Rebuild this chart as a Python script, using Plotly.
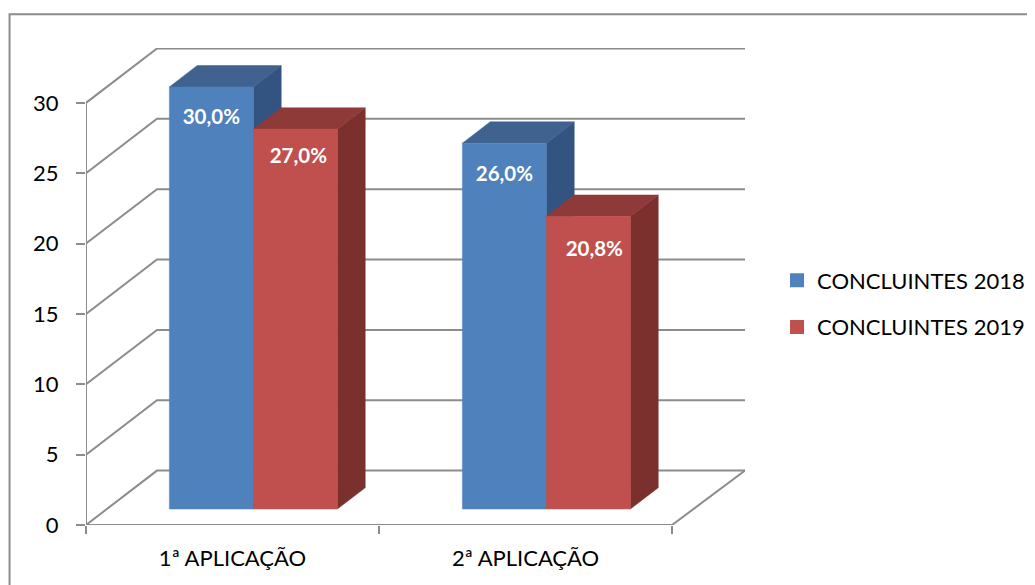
import plotly.graph_objects as go

categories = ["1ª APLICAÇÃO", "2ª APLICAÇÃO"]
series_names = ["CONCLUINTES 2018", "CONCLUINTES 2019"]
concluintes_2018 = [30, 26]
concluintes_2019 = [27, 20.8]
y_ticks = [0, 5, 10, 15, 20, 25, 30]

# oblique projection of the excel 3d column chart, in axis units
WALL_DX = 0.2423
WALL_DY = 3.866
BAR_NEAR = 0.294   # fraction of the floor depth where the bars start
BAR_FAR = 0.686    # and where they end
BAR_W = 0.2867
X_MAX = 2.249
Y_MAX = 33.9

GREY = "#8c8c8c"
FONT = "Lato"
COLORS = [
    {"front": "#4F81BD", "top": "#3F628E", "side": "#335480"},
    {"front": "#C0504D", "top": "#8E3A38", "side": "#7B302E"},
]
# excel nudged the labels a little differently on each bar
label_drop = [[2.27, 2.07], [2.3, 2.42]]
label_nudge = [[0, 0.01], [0, 0.02]]

fig = go.Figure()


def depth(frac):
    return frac * WALL_DX, frac * WALL_DY


def add_lines(xs, ys):
    fig.add_trace(go.Scatter(x=xs, y=ys, mode="lines", showlegend=False, hoverinfo="skip",
                             line=dict(color=GREY, width=2)))


def add_face(points, color):
    fig.add_trace(go.Scatter(x=[p[0] for p in points], y=[p[1] for p in points], mode="lines",
                             fill="toself", fillcolor=color, line=dict(color=color, width=0.5),
                             showlegend=False, hoverinfo="skip"))


# walls: back gridlines + diagonals on the left wall
wall_x, wall_y = [], []
for t in y_ticks:
    wall_x += [0, WALL_DX, X_MAX, None]
    wall_y += [t, t + WALL_DY, t + WALL_DY, None]
add_lines(wall_x, wall_y)
# y axis, floor front edge and floor right edge
add_lines([0, 0, None, 0, len(categories), X_MAX],
          [y_ticks[-1], 0, None, 0, 0, WALL_DY])

# bars
near_x, near_y = depth(BAR_NEAR)
far_x, far_y = depth(BAR_FAR)
label_x, label_y, label_text = [], [], []
for c in range(len(categories)):
    left = c + 0.5 + near_x - BAR_W
    for s, values in enumerate([concluintes_2018, concluintes_2019]):
        v = values[c]
        x0 = left + s * BAR_W
        x1 = x0 + BAR_W
        y0 = near_y
        y1 = near_y + v
        dx = far_x - near_x
        dy = far_y - near_y
        col = COLORS[s]
        add_face([(x1, y0), (x1 + dx, y0 + dy), (x1 + dx, y1 + dy), (x1, y1), (x1, y0)], col["side"])
        add_face([(x0, y1), (x0 + dx, y1 + dy), (x1 + dx, y1 + dy), (x1, y1), (x0, y1)], col["top"])
        add_face([(x0, y0), (x1, y0), (x1, y1), (x0, y1), (x0, y0)], col["front"])
        label_x.append((x0 + x1) / 2 + label_nudge[c][s])
        label_y.append(y1 - label_drop[c][s])
        label_text.append(f"{v:.1f}".replace(".", ",") + "%")

fig.add_trace(go.Scatter(x=label_x, y=label_y, text=label_text, mode="text", showlegend=False,
                         hoverinfo="skip",
                         textfont=dict(family=FONT, size=20.5, color="white", weight="bold")))

# legend entries only
for s, name in enumerate(series_names):
    fig.add_trace(go.Scatter(x=[None], y=[None], mode="markers", name=name, legendgroup=name,
                             marker=dict(symbol="square", size=14, color=COLORS[s]["front"])))

# page body has an 8px margin, so the figure is 8px smaller than the window
fig.update_layout(
    width=1027,
    height=577,
    margin=dict(l=78, r=290, t=40, b=60, autoexpand=False),
    paper_bgcolor="white",
    plot_bgcolor="white",
    font=dict(family=FONT, size=22, color="black"),
    showlegend=True,
    legend=dict(x=1.0486, y=0.5566, xanchor="left", yanchor="top", tracegroupgap=15,
                bgcolor="rgba(0,0,0,0)", font=dict(family=FONT, size=22, color="black")),
    shapes=[dict(type="path", xref="paper", yref="paper", layer="below",
                 path="M -0.116 -0.2 L -0.116 1.071 L 1.5 1.071",
                 line=dict(color=GREY, width=2))],
)
fig.update_xaxes(
    range=[0, X_MAX],
    showgrid=False,
    zeroline=False,
    showline=False,
    tickmode="array",
    tickvals=[i + 0.5 for i in range(len(categories))],
    ticktext=categories,
    ticks="",
    ticklabelstandoff=18,
    minor=dict(tickmode="array", tickvals=list(range(len(categories) + 1)), ticks="outside",
               ticklen=8, tickwidth=2, tickcolor=GREY, showgrid=False),
)
fig.update_yaxes(
    range=[0, Y_MAX],
    showgrid=False,
    zeroline=False,
    showline=False,
    tickmode="array",
    tickvals=y_ticks,
    ticks="outside",
    ticklen=9,
    tickwidth=2,
    tickcolor=GREY,
    ticklabelstandoff=13,
)

fig.write_html("out.html")
